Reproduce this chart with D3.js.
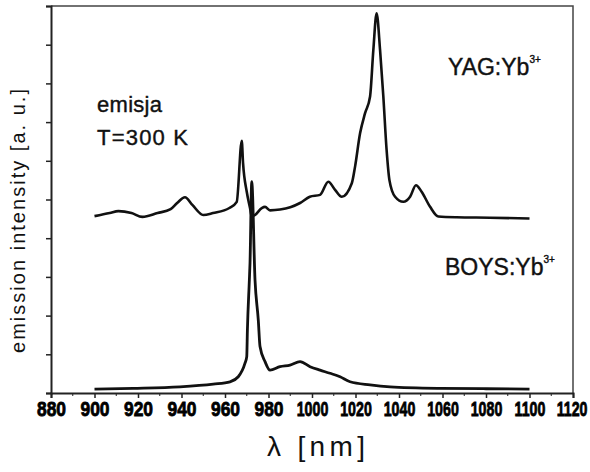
<!DOCTYPE html>
<html>
<head>
<meta charset="utf-8">
<script src="https://cdn.jsdelivr.net/npm/d3@7"></script>
<style>
  body { margin: 0; background: #fff; }
  svg { display: block; font-family: Arial, "Liberation Sans", sans-serif; }
</style>
</head>
<body>
<div id="chart"></div>
<script>
// wavelength [nm] / intensity [a.u.]
const yagNm = [900, 907, 911, 917, 922, 929, 935, 938, 941.6, 945, 950, 954.5, 962, 965.4, 967.7, 968.3, 970, 971.5, 972.3, 973.8, 976.9, 978.4, 980.7, 985.3, 990, 994.5, 999, 1003.7, 1007.5, 1010.6, 1013.7, 1018.3, 1019.8, 1022.1, 1024.4, 1026.7, 1028.2, 1029.7, 1031.3, 1032.8, 1034.3, 1035.6, 1038.2, 1042, 1045.1, 1047.8, 1050.4, 1054.3, 1058.1, 1066.5, 1081.8, 1100];
const yagVal = [4.57, 4.65, 4.70, 4.65, 4.55, 4.65, 4.75, 4.91, 5.06, 4.86, 4.60, 4.65, 4.78, 4.94, 6.52, 5.94, 5.20, 4.78, 4.56, 4.60, 4.78, 4.81, 4.72, 4.74, 4.80, 4.91, 5.07, 5.12, 5.46, 5.25, 5.07, 5.42, 5.85, 6.71, 7.23, 7.66, 8.86, 9.81, 8.86, 7.66, 6.28, 5.50, 5.07, 4.94, 5.07, 5.37, 5.20, 4.81, 4.56, 4.54, 4.53, 4.51];

const boysNm = [900, 917.8, 939.3, 954.6, 962.3, 966.1, 969.2, 970, 970.3, 971.2, 971.5, 972.3, 973.8, 975.3, 976.1, 978.4, 980.7, 985.3, 989.9, 994.5, 999.1, 1003.7, 1008.3, 1012.9, 1017.5, 1026.7, 1035.9, 1058.9, 1080, 1100];
const boysVal = [0.10, 0.12, 0.16, 0.23, 0.29, 0.42, 0.77, 0.94, 1.63, 2.92, 3.36, 5.46, 2.92, 1.89, 1.20, 0.81, 0.59, 0.68, 0.72, 0.81, 0.68, 0.59, 0.51, 0.42, 0.29, 0.21, 0.16, 0.12, 0.11, 0.10];

const xTicks = [880, 900, 920, 940, 960, 980, 1000, 1020, 1040, 1060, 1080, 1100, 1120];
const xMinor = [890, 910, 930, 950, 970, 990, 1010, 1030, 1050, 1070, 1090, 1110];
const yTicks = [0, 1, 2, 3, 4, 5, 6, 7, 8, 9, 10];

const width = 590, height = 472;
const margin = {top: 6, right: 17, bottom: 79, left: 51};

const svg = d3.select('#chart')
    .append('svg')
    .attr('width', width)
    .attr('height', height);

const x = d3.scaleLinear()
    .domain([880, 1120])
    .range([margin.left, width - margin.right]);

const y = d3.scaleLinear()
    .domain([0, 10])
    .range([height - margin.bottom, margin.top]);

// frame (top + right)
svg.append('path')
    .attr('d', `M ${x(880)} ${y(10)} H ${x(1120)} V ${y(0)}`)
    .attr('fill', 'none')
    .attr('stroke', '#444')
    .attr('stroke-width', 1.5);

// bottom axis
const xAxis = svg.append('g')
    .attr('transform', `translate(0,${y(0)})`)
    .call(d3.axisBottom(x).tickValues(xTicks).tickSize(5).tickFormat(d3.format('d')));
xAxis.select('.domain').attr('stroke', '#222').attr('stroke-width', 2);
xAxis.selectAll('.tick line').attr('stroke', '#222').attr('stroke-width', 1.5);
// squeezed bold digits, like the scanned original
xAxis.selectAll('.tick text')
    .attr('y', 9)
    .attr('font-family', '"Liberation Sans", Arial, sans-serif')
    .attr('font-size', 20)
    .attr('font-weight', 'bold')
    .attr('stroke', '#000')
    .attr('stroke-width', 0.8)
    .attr('transform', d => d >= 1000 ? 'scale(0.71,1)' : 'scale(0.87,1)')
    .attr('fill', '#000');
xAxis.selectAll('.tick text').filter(d => d === 1120).attr('dx', -2);

xAxis.selectAll('line.minor')
    .data(xMinor)
    .enter()
    .append('line')
    .attr('class', 'minor')
    .attr('x1', d => x(d)).attr('x2', d => x(d))
    .attr('y1', 0).attr('y2', 3)
    .attr('stroke', '#222');

// left axis, no labels
const yAxis = svg.append('g')
    .attr('transform', `translate(${margin.left},0)`)
    .call(d3.axisLeft(y).tickValues(yTicks).tickSize(5).tickFormat(''));
yAxis.select('.domain').attr('stroke', '#222').attr('stroke-width', 2);
yAxis.selectAll('.tick line').attr('stroke', '#222').attr('stroke-width', 1.5);

const line = d3.line()
    .x(d => x(d[0]))
    .y(d => y(d[1]))
    .curve(d3.curveMonotoneX);

svg.append('path')
    .datum(boysNm.map((n, i) => [n, boysVal[i]]))
    .attr('d', line)
    .attr('fill', 'none')
    .attr('stroke', '#111')
    .attr('stroke-width', 2.8)
    .attr('stroke-linejoin', 'round');

svg.append('path')
    .datum(yagNm.map((n, i) => [n, yagVal[i]]))
    .attr('d', line)
    .attr('fill', 'none')
    .attr('stroke', '#111')
    .attr('stroke-width', 2.6)
    .attr('stroke-linejoin', 'round');

// annotations
const note = svg.append('g').attr('fill', '#111')
    .attr('stroke', '#111').attr('stroke-width', 0.4);
note.append('text').attr('x', 97).attr('y', 112)
    .style('font-size', '22px').attr('textLength', 65).text('emisja');
note.append('text').attr('x', 97).attr('y', 145)
    .style('font-size', '22px').attr('textLength', 91).text('T=300 K');

const yag = note.append('text').attr('x', 448).attr('y', 75).style('font-size', '23px');
yag.append('tspan').text('YAG:Yb');
yag.append('tspan').attr('dy', -12).style('font-size', '10px').text('3+');

const boys = note.append('text').attr('x', 445).attr('y', 275).style('font-size', '23px');
boys.append('tspan').text('BOYS:Yb');
boys.append('tspan').attr('dy', -12).style('font-size', '10px').text('3+');

// axis titles
svg.append('text')
    .attr('transform', `translate(25,${221}) rotate(-90)`)
    .attr('text-anchor', 'middle')
    .style('font-size', '20px')
    .attr('textLength', 264)
    .attr('fill', '#111')
    .text('emission intensity [a. u.]');

svg.append('text')
    .attr('x', 316)
    .attr('y', 456)
    .attr('text-anchor', 'middle')
    .style('font-size', '28px')
    .attr('textLength', 98)
    .attr('fill', '#111')
    .text('λ [nm]');
</script>
</body>
</html>
